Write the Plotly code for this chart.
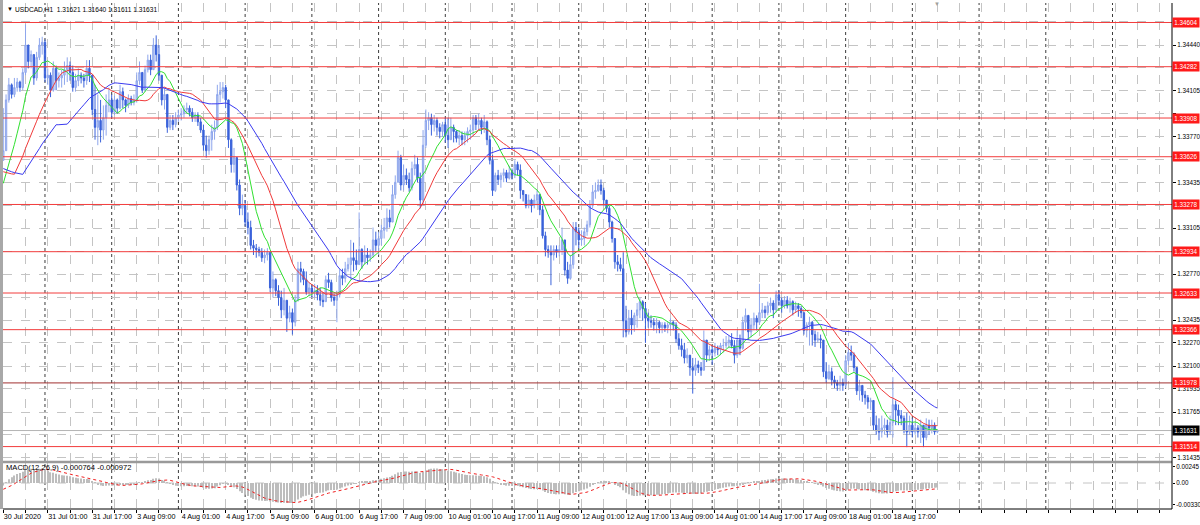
import pandas as pd
import plotly.graph_objects as go

# ---------------- data (USDCAD H1) ----------------
# closes before the first visible bar (only feed the moving averages / MACD)
prior_close = [1.3440, 1.3442, 1.3438, 1.3441, 1.3437, 1.3440, 1.3436, 1.3430,
               1.3316, 1.3312, 1.3308, 1.3305, 1.3310, 1.3306, 1.3312, 1.3309, 1.3304, 1.3311, 1.3307, 1.3310,
               1.3418, 1.3422, 1.3420, 1.3418,
               1.3330, 1.3326, 1.3322, 1.3324, 1.3321, 1.3327, 1.3325,
               1.3336, 1.3340, 1.3338, 1.3342, 1.3336, 1.3338, 1.3335, 1.3340, 1.3360]

close = [1.3367, 1.3404, 1.3415, 1.3408, 1.3413, 1.3417, 1.3413, 1.3424, 1.3444, 1.3432,
         1.3437, 1.3420, 1.3435, 1.3444, 1.3446, 1.3420, 1.3422, 1.3411, 1.3427, 1.3418,
         1.3420, 1.3422, 1.3426, 1.3429, 1.3424, 1.3413, 1.3418, 1.3422, 1.3420, 1.3418,
         1.3427, 1.3422, 1.3397, 1.3384, 1.3389, 1.3382, 1.3391, 1.3400, 1.3404, 1.3395,
         1.3404, 1.3398, 1.3410, 1.3404, 1.3400, 1.3405, 1.3402, 1.3404, 1.3418, 1.3424,
         1.3411, 1.3426, 1.3433, 1.3426, 1.3444, 1.3437, 1.3422, 1.3404, 1.3408, 1.3384,
         1.3389, 1.3386, 1.3391, 1.3393, 1.3394, 1.3397, 1.3398, 1.3395, 1.3391, 1.3393,
         1.3388, 1.3382, 1.3371, 1.3367, 1.3375, 1.3381, 1.3384, 1.3408, 1.3410, 1.3413,
         1.3404, 1.3375, 1.3357, 1.3362, 1.3342, 1.3325, 1.3327, 1.3315, 1.3311, 1.3298,
         1.3296, 1.3295, 1.3293, 1.3289, 1.3291, 1.3293, 1.3267, 1.3273, 1.3265, 1.3260,
         1.3251, 1.3258, 1.3245, 1.3249, 1.3242, 1.3258, 1.3281, 1.3279, 1.3273, 1.3264,
         1.3267, 1.3264, 1.3265, 1.3262, 1.3258, 1.3257, 1.3273, 1.3271, 1.3260, 1.3258,
         1.3262, 1.3276, 1.3274, 1.3281, 1.3284, 1.3289, 1.3287, 1.3284, 1.3295, 1.3286,
         1.3291, 1.3289, 1.3291, 1.3302, 1.3298, 1.3303, 1.3309, 1.3311, 1.3318, 1.3315,
         1.3335, 1.3344, 1.3362, 1.3342, 1.3349, 1.3346, 1.3340, 1.3354, 1.3357, 1.3347,
         1.3331, 1.3371, 1.3389, 1.3391, 1.3386, 1.3389, 1.3384, 1.3381, 1.3386, 1.3378,
         1.3375, 1.3384, 1.3381, 1.3376, 1.3378, 1.3375, 1.3378, 1.3381, 1.3382, 1.3391,
         1.3386, 1.3389, 1.3384, 1.3388, 1.3375, 1.3360, 1.3338, 1.3349, 1.3346, 1.3349,
         1.3351, 1.3347, 1.3351, 1.3349, 1.3357, 1.3353, 1.3338, 1.3335, 1.3327, 1.3331,
         1.3327, 1.3331, 1.3335, 1.3324, 1.3305, 1.3295, 1.3293, 1.3291, 1.3295, 1.3293,
         1.3295, 1.3302, 1.3280, 1.3274, 1.3284, 1.3311, 1.3308, 1.3302, 1.3303, 1.3308,
         1.3313, 1.3327, 1.3337, 1.3338, 1.3342, 1.3338, 1.3331, 1.3325, 1.3315, 1.3303,
         1.3286, 1.3284, 1.3281, 1.3243, 1.3235, 1.3245, 1.3240, 1.3247, 1.3251, 1.3257,
         1.3252, 1.3245, 1.3243, 1.3242, 1.3240, 1.3242, 1.3238, 1.3240, 1.3238, 1.3240,
         1.3242, 1.3240, 1.3230, 1.3225, 1.3222, 1.3216, 1.3218, 1.3209, 1.3207, 1.3211,
         1.3209, 1.3207, 1.3229, 1.3218, 1.3222, 1.3220, 1.3223, 1.3222, 1.3225, 1.3225,
         1.3227, 1.3229, 1.3225, 1.3218, 1.3229, 1.3223, 1.3242, 1.3247, 1.3235, 1.3240,
         1.3245, 1.3242, 1.3249, 1.3251, 1.3249, 1.3254, 1.3256, 1.3251, 1.3262, 1.3258,
         1.3254, 1.3258, 1.3254, 1.3257, 1.3251, 1.3254, 1.3252, 1.3249, 1.3236, 1.3240,
         1.3242, 1.3233, 1.3229, 1.3230, 1.3229, 1.3206, 1.3201, 1.3206, 1.3200, 1.3198,
         1.3196, 1.3198, 1.3196, 1.3214, 1.3220, 1.3218, 1.3209, 1.3192, 1.3196, 1.3189,
         1.3187, 1.3184, 1.3185, 1.3167, 1.3163, 1.3162, 1.3165, 1.3167, 1.3162, 1.3169,
         1.3182, 1.3178, 1.3174, 1.3172, 1.3163, 1.3162, 1.3167, 1.3162, 1.3165, 1.3162,
         1.3167, 1.3158, 1.3167, 1.3165, 1.3167, 1.31621, 1.31631]

high = [1.3398, 1.3408, 1.3420, 1.3416, 1.3420, 1.3420, 1.3418, 1.3427, 1.3459, 1.3442,
        1.3440, 1.3437, 1.3439, 1.3449, 1.3450, 1.3448, 1.3427, 1.3424, 1.3432, 1.3429,
        1.3424, 1.3426, 1.3432, 1.3435, 1.3432, 1.3429, 1.3423, 1.3427, 1.3424, 1.3423,
        1.3433, 1.3433, 1.3422, 1.3415, 1.3408, 1.3404, 1.3400, 1.3408, 1.3413, 1.3408,
        1.3407, 1.3405, 1.3415, 1.3413, 1.3405, 1.3408, 1.3407, 1.3408, 1.3424, 1.3432,
        1.3424, 1.3429, 1.3437, 1.3437, 1.3449, 1.3451, 1.3444, 1.3420, 1.3413, 1.3405,
        1.3393, 1.3393, 1.3395, 1.3397, 1.3398, 1.3400, 1.3402, 1.3400, 1.3398, 1.3395,
        1.3395, 1.3391, 1.3386, 1.3378, 1.3378, 1.3386, 1.3389, 1.3415, 1.3417, 1.3417,
        1.3415, 1.3404, 1.3376, 1.3369, 1.3362, 1.3346, 1.3335, 1.3331, 1.3322, 1.3316,
        1.3302, 1.3299, 1.3297, 1.3296, 1.3295, 1.3296, 1.3293, 1.3279, 1.3274, 1.3269,
        1.3265, 1.3267, 1.3258, 1.3254, 1.3252, 1.3262, 1.3286, 1.3286, 1.3281, 1.3279,
        1.3271, 1.3269, 1.3270, 1.3269, 1.3267, 1.3264, 1.3276, 1.3278, 1.3273, 1.3263,
        1.3265, 1.3281, 1.3281, 1.3286, 1.3289, 1.3302, 1.3300, 1.3295, 1.3322, 1.3296,
        1.3298, 1.3296, 1.3295, 1.3311, 1.3308, 1.3308, 1.3313, 1.3318, 1.3325, 1.3324,
        1.3342, 1.3349, 1.3367, 1.3364, 1.3357, 1.3354, 1.3351, 1.3359, 1.3364, 1.3362,
        1.3351, 1.3382, 1.3397, 1.3395, 1.3394, 1.3393, 1.3391, 1.3387, 1.3388, 1.3391,
        1.3391, 1.3391, 1.3386, 1.3382, 1.3382, 1.3381, 1.3381, 1.3384, 1.3386, 1.3393,
        1.3393, 1.3394, 1.3391, 1.3393, 1.3389, 1.3378, 1.3364, 1.3351, 1.3353, 1.3351,
        1.3354, 1.3353, 1.3356, 1.3354, 1.3360, 1.3359, 1.3357, 1.3338, 1.3335, 1.3335,
        1.3332, 1.3335, 1.3338, 1.3335, 1.3327, 1.3308, 1.3298, 1.3298, 1.3298, 1.3298,
        1.3298, 1.3311, 1.3298, 1.3286, 1.3291, 1.3315, 1.3315, 1.3311, 1.3309, 1.3311,
        1.3316, 1.3331, 1.3342, 1.3344, 1.3346, 1.3346, 1.3340, 1.3331, 1.3327, 1.3316,
        1.3303, 1.3291, 1.3289, 1.3293, 1.3254, 1.3251, 1.3251, 1.3249, 1.3256, 1.3260,
        1.3258, 1.3256, 1.3249, 1.3247, 1.3245, 1.3245, 1.3243, 1.3242, 1.3242, 1.3242,
        1.3245, 1.3243, 1.3242, 1.3234, 1.3230, 1.3227, 1.3223, 1.3218, 1.3216, 1.3216,
        1.3214, 1.3213, 1.3236, 1.3225, 1.3225, 1.3225, 1.3227, 1.3225, 1.3227, 1.3230,
        1.3232, 1.3232, 1.3234, 1.3229, 1.3236, 1.3233, 1.3246, 1.3252, 1.3247, 1.3245,
        1.3249, 1.3247, 1.3270, 1.3256, 1.3254, 1.3257, 1.3260, 1.3258, 1.3265, 1.3265,
        1.3260, 1.3261, 1.3261, 1.3260, 1.3258, 1.3257, 1.3256, 1.3254, 1.3249, 1.3242,
        1.3246, 1.3243, 1.3236, 1.3235, 1.3233, 1.3227, 1.3213, 1.3211, 1.3209, 1.3203,
        1.3200, 1.3203, 1.3201, 1.3218, 1.3227, 1.3225, 1.3220, 1.3209, 1.3200, 1.3196,
        1.3192, 1.3189, 1.3187, 1.3185, 1.3174, 1.3172, 1.3174, 1.3172, 1.3171, 1.3174,
        1.3202, 1.3185, 1.3182, 1.3178, 1.3174, 1.3176, 1.3174, 1.3172, 1.3169, 1.3167,
        1.3171, 1.3167, 1.3172, 1.3171, 1.3171, 1.3169, 1.31640]

low = [1.3364, 1.3367, 1.3402, 1.3405, 1.3406, 1.3410, 1.3410, 1.3411, 1.3422, 1.3427,
       1.3427, 1.3415, 1.3418, 1.3433, 1.3437, 1.3417, 1.3415, 1.3406, 1.3410, 1.3411,
       1.3413, 1.3413, 1.3415, 1.3417, 1.3418, 1.3410, 1.3410, 1.3414, 1.3416, 1.3413,
       1.3415, 1.3417, 1.3393, 1.3375, 1.3371, 1.3373, 1.3375, 1.3378, 1.3395, 1.3391,
       1.3393, 1.3394, 1.3397, 1.3398, 1.3395, 1.3398, 1.3400, 1.3400, 1.3402, 1.3415,
       1.3409, 1.3410, 1.3424, 1.3422, 1.3426, 1.3432, 1.3418, 1.3400, 1.3397, 1.3380,
       1.3382, 1.3382, 1.3384, 1.3388, 1.3389, 1.3391, 1.3394, 1.3392, 1.3388, 1.3388,
       1.3385, 1.3380, 1.3367, 1.3362, 1.3364, 1.3367, 1.3375, 1.3382, 1.3402, 1.3405,
       1.3398, 1.3369, 1.3351, 1.3351, 1.3338, 1.3320, 1.3320, 1.3312, 1.3306, 1.3295,
       1.3291, 1.3289, 1.3290, 1.3286, 1.3285, 1.3287, 1.3264, 1.3260, 1.3261, 1.3254,
       1.3245, 1.3247, 1.3235, 1.3242, 1.3233, 1.3239, 1.3257, 1.3271, 1.3269, 1.3262,
       1.3261, 1.3260, 1.3260, 1.3258, 1.3254, 1.3253, 1.3257, 1.3267, 1.3257, 1.3254,
       1.3242, 1.3260, 1.3269, 1.3271, 1.3279, 1.3273, 1.3279, 1.3280, 1.3284, 1.3281,
       1.3284, 1.3284, 1.3286, 1.3289, 1.3293, 1.3291, 1.3298, 1.3303, 1.3308, 1.3311,
       1.3315, 1.3332, 1.3344, 1.3338, 1.3338, 1.3342, 1.3337, 1.3338, 1.3349, 1.3344,
       1.3325, 1.3327, 1.3369, 1.3382, 1.3378, 1.3381, 1.3378, 1.3376, 1.3377, 1.3373,
       1.3369, 1.3375, 1.3373, 1.3373, 1.3371, 1.3371, 1.3371, 1.3373, 1.3375, 1.3378,
       1.3382, 1.3382, 1.3379, 1.3380, 1.3371, 1.3357, 1.3334, 1.3337, 1.3342, 1.3340,
       1.3344, 1.3344, 1.3346, 1.3346, 1.3347, 1.3349, 1.3332, 1.3330, 1.3325, 1.3325,
       1.3322, 1.3325, 1.3327, 1.3320, 1.3303, 1.3290, 1.3289, 1.3269, 1.3287, 1.3289,
       1.3290, 1.3291, 1.3276, 1.3270, 1.3273, 1.3281, 1.3298, 1.3296, 1.3298, 1.3298,
       1.3305, 1.3311, 1.3325, 1.3332, 1.3337, 1.3335, 1.3327, 1.3322, 1.3311, 1.3300,
       1.3281, 1.3279, 1.3279, 1.3231, 1.3231, 1.3233, 1.3233, 1.3235, 1.3238, 1.3245,
       1.3243, 1.3227, 1.3238, 1.3238, 1.3236, 1.3234, 1.3234, 1.3234, 1.3235, 1.3234,
       1.3236, 1.3236, 1.3227, 1.3222, 1.3217, 1.3212, 1.3212, 1.3203, 1.3190, 1.3203,
       1.3205, 1.3203, 1.3209, 1.3213, 1.3214, 1.3211, 1.3217, 1.3218, 1.3218, 1.3220,
       1.3223, 1.3223, 1.3223, 1.3212, 1.3216, 1.3218, 1.3222, 1.3236, 1.3229, 1.3231,
       1.3236, 1.3236, 1.3240, 1.3245, 1.3245, 1.3247, 1.3249, 1.3245, 1.3249, 1.3254,
       1.3249, 1.3252, 1.3252, 1.3249, 1.3247, 1.3249, 1.3246, 1.3245, 1.3233, 1.3231,
       1.3225, 1.3225, 1.3224, 1.3227, 1.3223, 1.3202, 1.3198, 1.3200, 1.3196, 1.3194,
       1.3192, 1.3192, 1.3192, 1.3194, 1.3211, 1.3214, 1.3206, 1.3189, 1.3185, 1.3184,
       1.3182, 1.3179, 1.3178, 1.3163, 1.3160, 1.3156, 1.3158, 1.3160, 1.3158, 1.3160,
       1.3158, 1.3167, 1.3167, 1.3167, 1.3161, 1.3151, 1.3160, 1.3158, 1.3160, 1.3158,
       1.3154, 1.3151, 1.3156, 1.3160, 1.3161, 1.3160, 1.31611]

time_labels = ["30 Jul 2020", "31 Jul 01:00", "31 Jul 17:00", "3 Aug 09:00", "4 Aug 01:00",
               "4 Aug 17:00", "5 Aug 09:00", "6 Aug 01:00", "6 Aug 17:00", "7 Aug 09:00",
               "10 Aug 01:00", "10 Aug 17:00", "11 Aug 09:00", "12 Aug 01:00", "12 Aug 17:00",
               "13 Aug 09:00", "14 Aug 01:00", "14 Aug 17:00", "17 Aug 09:00", "18 Aug 01:00",
               "18 Aug 17:00"]
label_bars = [0, 16, 32, 48, 64, 80, 96, 112, 128, 144, 160, 176, 192, 208, 224, 240,
              256, 272, 288, 304, 320]
grid_bars = list(range(0, 424, 8))
day_start_bars = [15, 39, 63, 87, 111, 135, 159, 183, 207, 231, 255, 279, 303, 327, 351, 375, 399]

price_ticks = [1.34610, 1.34440, 1.34275, 1.34105, 1.33940, 1.33770, 1.33605, 1.33435,
               1.33270, 1.33105, 1.32935, 1.32770, 1.32600, 1.32435, 1.32270, 1.32100,
               1.31935, 1.31765, 1.31600, 1.31435]
levels = [1.34604, 1.34282, 1.33908, 1.33626, 1.33278, 1.32934, 1.32633, 1.32366, 1.31978, 1.31514]
level_colors = ["#f23c3c"] * 8 + ["#a03030", "#f23c3c"]
last_price = 1.31631
macd_ticks = [0.00245, 0.0, -0.00330]
macd_ticktext = ["0.00245", "0.00", "-0.00330"]
title_text = "USDCAD,H1  1.31621 1.31640 1.31611 1.31631"
macd_text = "MACD(12,26,9) -0.000764 -0.000972"

# ---------------- derived ----------------
n = len(close)
x = list(range(n))
opens = [prior_close[-1]] + close[:-1]
hi = [max(h, o, c) for h, o, c in zip(high, opens, close)]
lo = [min(l, o, c) for l, o, c in zip(low, opens, close)]

full = pd.Series(prior_close + close)
k = len(prior_close)
ma_fast = full.rolling(10).mean().iloc[k:].tolist()
ma_mid = full.rolling(21).mean().iloc[k:].tolist()
ma_slow = full.rolling(40).mean().iloc[k:].tolist()
ema12 = full.ewm(span=12, adjust=False).mean()
ema26 = full.ewm(span=26, adjust=False).mean()
macd_main = ema12 - ema26
macd_sig = macd_main.rolling(9).mean()
macd_main = macd_main.iloc[k:].tolist()
macd_sig = macd_sig.iloc[k:].tolist()

# tick labels that sit under a price label box are hidden (as on the terminal)
covered = levels + [last_price]
price_ticktext = ["" if min(abs(t - c) for c in covered) < 0.00036 else f"{t:.5f}" for t in price_ticks]

# ---------------- figure ----------------
FONT = "Liberation Sans, Arial, sans-serif"
PLOT_TOP, PLOT_BOT = 3, 509
PLOT_L, PLOT_R = 3, 1172
H = PLOT_BOT - PLOT_TOP
W = PLOT_R - PLOT_L


def py(pix):
    return (PLOT_BOT - pix) / H


fig = go.Figure()
fig.add_trace(go.Candlestick(
    x=x, open=opens, high=hi, low=lo, close=close,
    increasing=dict(line=dict(color="#8ea6ec", width=1), fillcolor="#b9c8f4"),
    decreasing=dict(line=dict(color="#3a62da", width=1), fillcolor="#3a62da"),
    whiskerwidth=0, xaxis="x", yaxis="y", hoverinfo="skip"))
fig.add_trace(go.Scatter(x=x, y=ma_fast, mode="lines", line=dict(color="#30e030", width=1),
                         xaxis="x", yaxis="y", hoverinfo="skip"))
fig.add_trace(go.Scatter(x=x, y=ma_mid, mode="lines", line=dict(color="#f03a3a", width=1),
                         xaxis="x", yaxis="y", hoverinfo="skip"))
fig.add_trace(go.Scatter(x=x, y=ma_slow, mode="lines", line=dict(color="#3a3af0", width=1),
                         xaxis="x", yaxis="y", hoverinfo="skip"))
fig.add_trace(go.Bar(x=x, y=macd_main, width=0.4, marker=dict(color="#bdbdbd", line=dict(width=0)),
                     xaxis="x", yaxis="y2", hoverinfo="skip"))
fig.add_trace(go.Scatter(x=x, y=macd_sig, mode="lines", line=dict(color="#f02020", width=1, dash="dot"),
                         xaxis="x", yaxis="y2", hoverinfo="skip"))

price_top = 1.34440 + (45 - PLOT_TOP) / 13725
price_bot = 1.34440 - (461 - 45) / 13725
macd_top = (483 - 463) * 0.000153
macd_bot = -(PLOT_BOT - 483) * 0.000153

xtickfont = dict(family=FONT, size=7.2, color="black")
ytickfont = dict(family=FONT, size=6.3, color="black")
xt_text = [time_labels[label_bars.index(b)] if b in label_bars else "" for b in grid_bars]

fig.update_layout(
    width=1200, height=525,
    margin=dict(l=PLOT_L, r=1200 - PLOT_R, t=PLOT_TOP, b=525 - PLOT_BOT, autoexpand=False),
    paper_bgcolor="white", plot_bgcolor="white", showlegend=False,
    xaxis=dict(range=[-0.1, 420.4], anchor="y2", tickvals=grid_bars, ticktext=xt_text,
               ticklabelposition="outside right", tickangle=0, tickfont=xtickfont,
               ticks="outside", ticklen=3, tickcolor="black", automargin=False,
               showgrid=True, gridcolor="#c4c4c4", griddash="dash", gridwidth=1,
               zeroline=False, showline=False, rangeslider=dict(visible=False)),
    yaxis=dict(domain=[py(461), 1.0], range=[price_bot, price_top], side="right",
               tickvals=price_ticks, ticktext=price_ticktext,
               tickfont=ytickfont, ticks="outside", ticklen=3, tickcolor="black", automargin=False,
               showgrid=True, gridcolor="#c4c4c4", griddash="dash", gridwidth=1,
               zeroline=False, showline=False),
    yaxis2=dict(domain=[0.0, py(463)], range=[macd_bot, macd_top], side="right",
                tickvals=macd_ticks, ticktext=macd_ticktext, tickfont=ytickfont, automargin=False,
                ticks="outside", ticklen=2, tickcolor="black",
                showgrid=False, zeroline=False, showline=False),
)

shapes = []
for b in day_start_bars:
    shapes.append(dict(type="line", xref="x", yref="paper", x0=b, x1=b, y0=0, y1=1,
                       line=dict(color="#3c3c3c", width=1, dash="dot"), layer="below"))
shapes.append(dict(type="line", xref="paper", yref="y2", x0=0, x1=1, y0=0, y1=0,
                   line=dict(color="#c4c4c4", width=1, dash="dash"), layer="below"))
for lv, col in zip(levels, level_colors):
    shapes.append(dict(type="line", xref="paper", yref="y", x0=0, x1=1, y0=lv, y1=lv,
                       line=dict(color=col, width=1)))
shapes.append(dict(type="line", xref="paper", yref="y", x0=0, x1=1, y0=last_price, y1=last_price,
                   line=dict(color="#b4b4b4", width=1)))
shapes.append(dict(type="rect", xref="paper", yref="paper", x0=0, x1=1, y0=py(463.2), y1=py(460.8),
                   line=dict(width=0), fillcolor="#9a9a9a"))
shapes.append(dict(type="line", xref="paper", yref="paper", x0=1, x1=1, y0=0, y1=1,
                   line=dict(color="black", width=1)))
shapes.append(dict(type="line", xref="paper", yref="paper", x0=0, x1=1, y0=0, y1=0,
                   line=dict(color="black", width=1)))
shapes.append(dict(type="rect", xref="paper", yref="paper", x0=-3 / W, x1=0, y0=0, y1=1 + 3 / H,
                   line=dict(width=0), fillcolor="#a8a8a8"))
fig.update_layout(shapes=shapes)

ann = []
for lv in levels:
    ann.append(dict(xref="paper", yref="y", x=1, y=lv, xanchor="left", yanchor="middle", xshift=0,
                    text=f"{lv:.5f}", showarrow=False, bgcolor="#ff1a1a", borderpad=0,
                    width=26, height=9, align="center",
                    font=dict(family=FONT, size=6.3, color="white")))
ann.append(dict(xref="paper", yref="y", x=1, y=last_price, xanchor="left", yanchor="middle", xshift=0,
                text=f"{last_price:.5f}", showarrow=False, bgcolor="black", borderpad=0,
                width=26, height=9, align="center",
                font=dict(family=FONT, size=6.3, color="white")))
ann.append(dict(xref="paper", yref="paper", x=2 / W, y=py(9), xanchor="left", yanchor="middle",
                text="▼", showarrow=False, font=dict(family=FONT, size=6, color="black")))
ann.append(dict(xref="paper", yref="paper", x=10 / W, y=py(9), xanchor="left", yanchor="middle",
                text=title_text, showarrow=False, font=dict(family=FONT, size=6.6, color="black")))
ann.append(dict(xref="paper", yref="paper", x=1 / W, y=py(467), xanchor="left", yanchor="middle",
                text=macd_text, showarrow=False, font=dict(family=FONT, size=7.6, color="black")))
ann.append(dict(xref="x", yref="paper", x=n - 1, y=py(4), xanchor="center", yanchor="middle",
                text="▼", showarrow=False, font=dict(family=FONT, size=6, color="#a0a0a0")))
fig.update_layout(annotations=ann)

fig.write_html("out.html", config={"displayModeBar": False},
               post_script="document.body.style.margin='0px';")
